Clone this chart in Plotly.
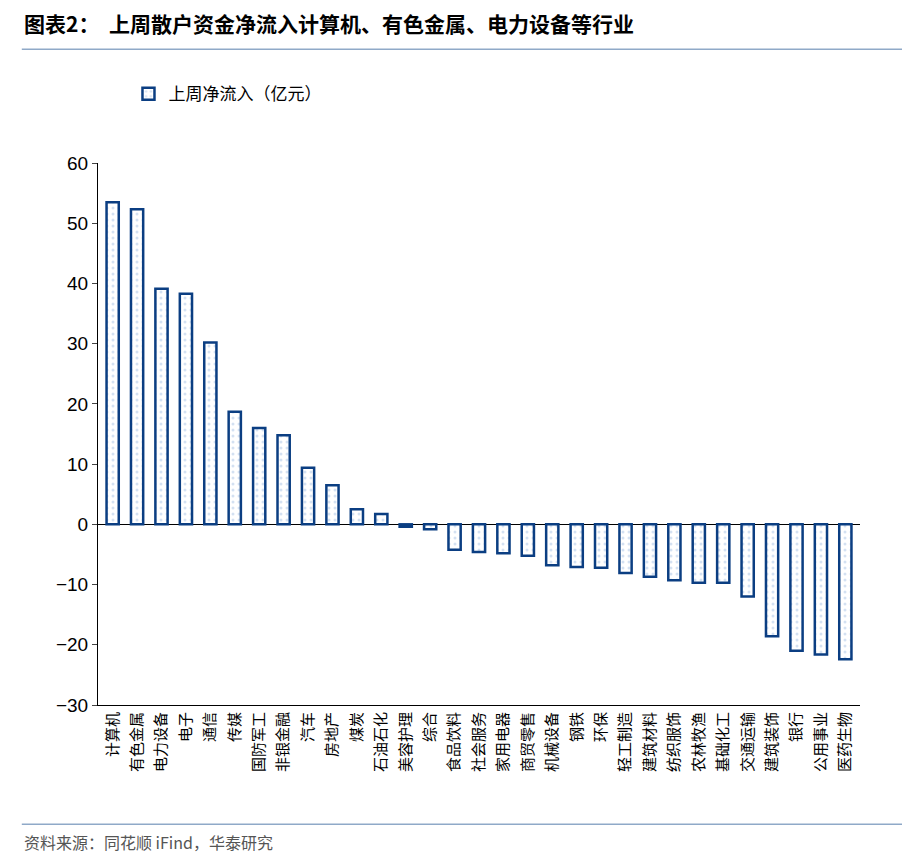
import plotly.graph_objects as go

categories = ["计算机","有色金属","电力设备","电子","通信","传媒","国防军工","非银金融","汽车","房地产","煤炭","石油石化","美容护理","综合","食品饮料","社会服务","家用电器","商贸零售","机械设备","钢铁","环保","轻工制造","建筑材料","纺织服饰","农林牧渔","基础化工","交通运输","建筑装饰","银行","公用事业","医药生物"]
values = [53.5,52.3,39.1,38.3,30.2,18.7,16.0,14.8,9.4,6.5,2.5,1.7,-0.4,-0.8,-4.2,-4.6,-4.8,-5.2,-6.8,-7.1,-7.2,-8.1,-8.7,-9.3,-9.7,-9.7,-12.0,-18.6,-21.0,-21.6,-22.4]
tick_vals = [-30,-20,-10,0,10,20,30,40,50,60]

F = "Noto Sans CJK SC"
fig = go.Figure(go.Bar(
    x=categories, y=values, name="上周净流入（亿元）",
    marker=dict(color="white", line=dict(color="#0B3E82", width=2.5),
                pattern=dict(shape=".", fgcolor="#A9C4E6", size=6, solidity=0.2)),
    width=0.5,
))
fig.update_layout(
    width=910, height=860, plot_bgcolor="white", paper_bgcolor="white",
    margin=dict(l=90, r=58, t=155, b=163),
    font=dict(family=F, size=17, color="black"),
    showlegend=True,
    legend=dict(x=0.04, y=1.16, xanchor="left", yanchor="top", font=dict(size=17, family=F)),
    bargap=0.5,
    xaxis=dict(tickangle=-90, showline=True, linecolor="black", ticks="", tickfont=dict(size=15, family=F),
               range=[-0.6, 30.6]),
    yaxis=dict(range=[-30,60], tickvals=tick_vals, showgrid=False, zeroline=True, zerolinecolor="black",
               zerolinewidth=1, showline=True, linecolor="black", ticks="outside", ticklen=5,
               tickfont=dict(size=19, family="Liberation Sans")),
    shapes=[
        dict(type="line", xref="paper", yref="paper", x0=-0.1, x1=1.07, y0=1.21, y1=1.21, line=dict(color="#8FA9C8", width=1.5)),
        dict(type="line", xref="paper", yref="paper", x0=-0.1, x1=1.07, y0=-0.22, y1=-0.22, line=dict(color="#8FA9C8", width=1.5)),
    ],
    annotations=[
        dict(text="<b>图表2：  上周散户资金净流入计算机、有色金属、电力设备等行业</b>", xref="paper", yref="paper",
             x=-0.1, y=1.29, xanchor="left", yanchor="top", showarrow=False, font=dict(size=21, family=F, color="black")),
        dict(text="资料来源：同花顺 iFind，华泰研究", xref="paper", yref="paper",
             x=-0.1, y=-0.252, xanchor="left", yanchor="middle", showarrow=False, font=dict(size=16, family=F, color="#555")),
    ],
)
fig.write_html("out.html")
